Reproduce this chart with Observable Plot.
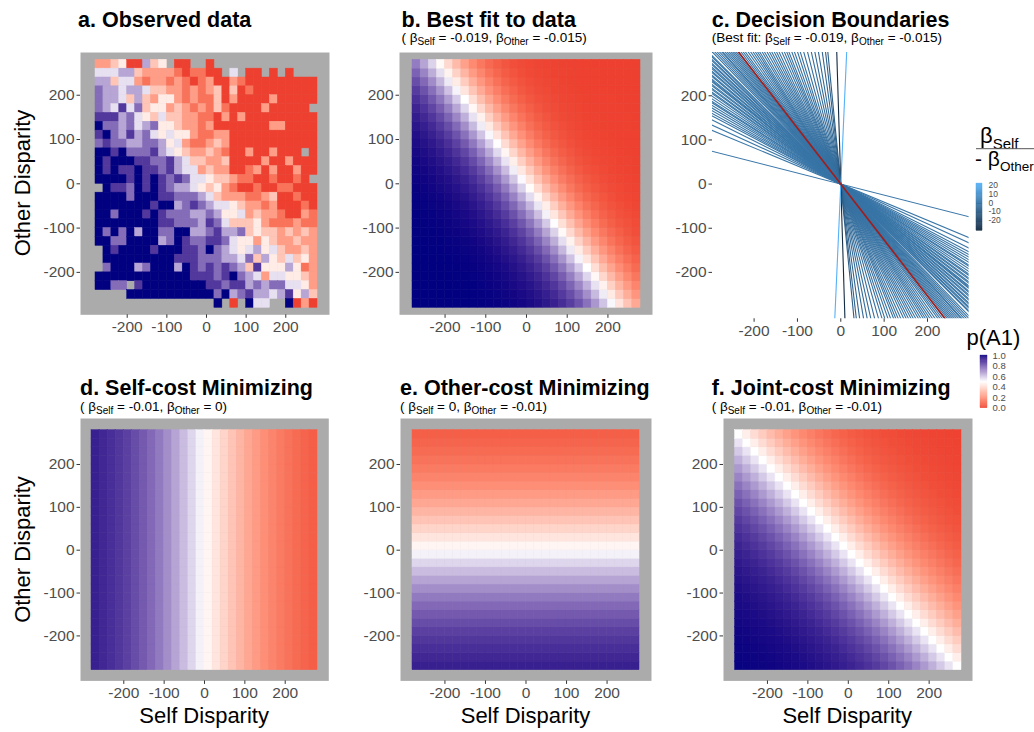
<!DOCTYPE html>
<html><head><meta charset="utf-8">
<script src="https://cdn.jsdelivr.net/npm/d3@7"></script>
<script src="https://cdn.jsdelivr.net/npm/@observablehq/plot@0.6"></script>
<style>
html,body{margin:0;padding:0;background:#fff;}
#root{position:relative;width:1034px;height:732px;overflow:hidden;font-family:"Liberation Sans",Arial,Helvetica,sans-serif;}
#root svg{position:absolute;overflow:visible;}
</style></head><body><div id="root"></div>
<script>
// ---------------- DATA ----------------
const disparity = [-270,-250,-230,-210,-190,-170,-150,-130,-110,-90,-70,-50,-30,-10,10,30,50,70,90,110,130,150,170,190,210,230,250,270];
// Observed p(A1): rows from Other Disparity 270 (top) down to -270; columns Self Disparity -270..270.
// digit d -> p = d/9 ; "." = no observation
const observedRows = [
  "223400634.00..0.............",
  "5556632222101100.5.00.0.0...",
  "6635521221210120021000000000",
  "7665665332212123030100000000",
  "7665363244212113020000200000",
  "765857344232121310000200000.",
  "8886754353322110202000000000",
  "9776756744322120000000220000",
  "8976867545442112200000000000",
  "7877667764521123200000000000",
  "99897778654322321002002000.0",
  "9899988778653322300002002000",
  "9898898878655232200120200200",
  "999989898787554332110010010.",
  ".988798987665434210010011000",
  "9999799988777653222112300100",
  "9999999899678765543221200010",
  "9979998987776676445232210021",
  "9999999988777687533342111211",
  "9797969977996678667343323232",
  "9977999967987788754424322322",
  ".989999899988797654564532232",
  ".999999999888777665736435342",
  ".799967999698787876384446412",
  "9999999999998887897652554432",
  "9977.89999999988788676775542",
  "....999999999997967866568463",
  "...............9.0.955..9020"
];
const modelKeys  = ["b", "d", "e", "f"];
const betaSelf   = [-0.019, -0.01, 0, -0.01];
const betaOther  = [-0.015, 0, -0.01, -0.01];
// individual decision-boundary slopes (beta_self / -beta_other)
const boundaryRatios = [
  -0.25,-1.01,-0.41,-1.03,-0.45,-1.05,-0.49,-1.07,-0.52,-1.09,-0.54,-1.1,-0.56,-1.12,-0.58,-1.14,
  -0.6,-1.16,-0.62,-1.18,-0.63,-1.2,-0.65,-1.22,-0.67,-1.24,-0.69,-1.27,-0.7,-1.3,-0.72,-1.33,
  -0.73,-1.36,-0.75,-1.4,-0.76,-1.44,-0.78,-1.48,-0.79,-1.52,-0.8,-1.56,-0.82,-1.6,-0.83,-1.65,
  -0.85,-1.7,-0.86,-1.76,-0.88,-1.82,-0.89,-1.88,-0.91,-1.95,-0.92,-2.02,-0.94,-2.1,-0.95,-2.2,
  -0.97,-2.3,-0.98,-2.4,-2.5,-2.65,-2.8,-3.0,-3.2,-3.5,-3.9,-4.4,-5.0,-5.8,-7.0,-8.5,-10,-32,22
];
const axisTicks   = [-200, -100, 0, 100, 200];
const legendTicks = [0, 0.2, 0.4, 0.6, 0.8, 1];
const ratioTicks  = [-20, -10, 0, 10, 20];

// ---------------- STYLE / LAYOUT ----------------
const FONT = '"Liberation Sans", Arial, Helvetica, sans-serif';
const RED = "#EE4030", NAVY = "#000080", GRAY = "#ABABAB";
const LINE_DARK = "#132B43", LINE_LIGHT = "#56B1F7", FIT_RED = "#9E1F1F";
const TICK_TEXT = "#4D4D4D", TICK_LINE = "#333333";
const frames = {
  a: {left: 80, right: 329, top: 51.7, bottom: 314, tileLeft: 95, tileRight: 317, tileTop: 59, tileBottom: 307},
  b: {left: 399, right: 652, top: 51.7, bottom: 314, tileLeft: 412, tileRight: 640, tileTop: 59, tileBottom: 307},
  d: {left: 80, right: 328.3, top: 418.3, bottom: 680.7, tileLeft: 91, tileRight: 317, tileTop: 430, tileBottom: 670},
  e: {left: 400, right: 651, top: 418.3, bottom: 680.7, tileLeft: 412, tileRight: 639, tileTop: 430, tileBottom: 670},
  f: {left: 722.7, right: 971.7, top: 418.3, bottom: 680.7, tileLeft: 734.3, tileRight: 960.7, tileTop: 430, tileBottom: 670},
  c: {left: 711.7, right: 968.3, top: 51.7, bottom: 318, x0: 840, y0: 183.3, kx: 0.4335, ky: 0.4415}
};

const root = document.getElementById("root");
const step = disparity[1] - disparity[0];
const half = step / 2;
const lo = disparity[0] - half, hi = disparity[disparity.length - 1] + half;

const pColor = {type: "linear", domain: [0, 0.5, 1], range: [RED, "#ffffff", NAVY], interpolate: d3.interpolateLab};

function place(svg, left, top) {
  svg.style.left = left + "px";
  svg.style.top = top + "px";
  root.appendChild(svg);
}
function axes() {
  const common = {ticks: axisTicks, tickFormat: d => String(d), tickSize: 3.5, tickPadding: 2.5,
    fontSize: 15.5, stroke: TICK_LINE, fill: TICK_TEXT, label: null};
  return [Plot.axisX(common), Plot.axisY(common)];
}

// build cell tables
const observedCells = [];
observedRows.forEach((row, i) => {
  for (let j = 0; j < disparity.length; j++) {
    const ch = row[j];
    if (ch === undefined || ch === ".") continue;
    observedCells.push({self: disparity[j], other: disparity[disparity.length - 1 - i], p: +ch / 9});
  }
});
function modelCells(bs, bo) {
  const out = [];
  for (const o of disparity) for (const s of disparity)
    out.push({self: s, other: o, p: 1 / (1 + Math.exp(-(bs * s + bo * o)))});
  return out;
}

function heatPanel(cells, g) {
  const M = {l: 60, r: 12, t: 12, b: 40};
  const w = g.right - g.left, h = g.bottom - g.top;
  const kx = (g.tileRight - g.tileLeft) / (hi - lo);
  const ky = (g.tileBottom - g.tileTop) / (hi - lo);
  const xDomain = [lo - (g.tileLeft - g.left) / kx, hi + (g.right - g.tileRight) / kx];
  const yDomain = [lo - (g.bottom - g.tileBottom) / ky, hi + (g.tileTop - g.top) / ky];
  const svg = Plot.plot({
    width: w + M.l + M.r, height: h + M.t + M.b,
    marginLeft: M.l, marginRight: M.r, marginTop: M.t, marginBottom: M.b,
    style: {fontFamily: FONT, background: "transparent", overflow: "visible"},
    x: {domain: xDomain}, y: {domain: yDomain},
    color: pColor,
    marks: [
      Plot.frame({fill: GRAY, stroke: "none"}),
      Plot.rect(cells, {x1: d => d.self - half, x2: d => d.self + half, y1: d => d.other - half, y2: d => d.other + half,
        fill: "p", stroke: "p", strokeWidth: 0.5}),
      ...axes()
    ]
  });
  place(svg, g.left - M.l, g.top - M.t);
}

function boundaryPanel(g) {
  const M = {l: 60, r: 12, t: 12, b: 40};
  const w = g.right - g.left, h = g.bottom - g.top;
  const xDomain = [(g.left - g.x0) / g.kx, (g.right - g.x0) / g.kx];
  const yDomain = [(g.y0 - g.bottom) / g.ky, (g.y0 - g.top) / g.ky];
  const ext = 2 * Math.max(-xDomain[0], xDomain[1]);
  const seg = r => ({r, x1: -ext, y1: -ext * r, x2: ext, y2: ext * r});
  const bestRatio = betaSelf[0] / -betaOther[0];
  const svg = Plot.plot({
    width: w + M.l + M.r, height: h + M.t + M.b,
    marginLeft: M.l, marginRight: M.r, marginTop: M.t, marginBottom: M.b,
    style: {fontFamily: FONT, background: "transparent", overflow: "visible"},
    x: {domain: xDomain}, y: {domain: yDomain},
    color: {type: "linear", domain: d3.extent(boundaryRatios), range: [LINE_DARK, LINE_LIGHT], interpolate: d3.interpolateLab},
    marks: [
      Plot.link(boundaryRatios.map(seg), {x1: "x1", y1: "y1", x2: "x2", y2: "y2", stroke: "r", strokeWidth: 1.1, clip: true}),
      Plot.link([seg(bestRatio)], {x1: "x1", y1: "y1", x2: "x2", y2: "y2", stroke: FIT_RED, strokeWidth: 1.7, clip: true}),
      ...axes()
    ]
  });
  place(svg, g.left - M.l, g.top - M.t);
}

heatPanel(observedCells, frames.a);
modelKeys.forEach((k, i) => heatPanel(modelCells(betaSelf[i], betaOther[i]), frames[k]));
boundaryPanel(frames.c);

// ---------------- LEGENDS ----------------
(function pLegend() {
  const barW = 7, top = 354.5, bottom = 407.3;
  const M = {l: 0, r: 30, t: 4, b: 4};
  const samples = d3.range(0, 100).map(i => ({v0: i / 100, v1: (i + 1) / 100}));
  const svg = Plot.plot({
    width: barW + M.l + M.r, height: bottom - top + M.t + M.b,
    marginLeft: M.l, marginRight: M.r, marginTop: M.t, marginBottom: M.b,
    style: {fontFamily: FONT, background: "transparent", overflow: "visible"},
    x: {domain: [0, 1], axis: null}, y: {domain: [0, 1]},
    color: pColor,
    marks: [
      Plot.rect(samples, {x1: 0, x2: 1, y1: "v0", y2: "v1", fill: d => (d.v0 + d.v1) / 2, stroke: d => (d.v0 + d.v1) / 2, strokeWidth: 0.3}),
      Plot.axisY({anchor: "right", ticks: legendTicks, tickFormat: d3.format(".1f"), tickSize: 0, tickPadding: 5, fontSize: 9.5, fill: TICK_TEXT, label: null})
    ]
  });
  place(svg, 980 - M.l, top - M.t);
})();
(function ratioLegend() {
  const barW = 6, top = 183.3, bottom = 230.7;
  const M = {l: 0, r: 30, t: 4, b: 4};
  const [r0, r1] = d3.extent(boundaryRatios);
  const samples = d3.range(0, 100).map(i => ({v0: r0 + (r1 - r0) * i / 100, v1: r0 + (r1 - r0) * (i + 1) / 100}));
  const svg = Plot.plot({
    width: barW + M.l + M.r, height: bottom - top + M.t + M.b,
    marginLeft: M.l, marginRight: M.r, marginTop: M.t, marginBottom: M.b,
    style: {fontFamily: FONT, background: "transparent", overflow: "visible"},
    x: {domain: [0, 1], axis: null}, y: {domain: [r0, r1]},
    color: {type: "linear", domain: [r0, r1], range: [LINE_DARK, LINE_LIGHT], interpolate: d3.interpolateLab},
    marks: [
      Plot.rect(samples, {x1: 0, x2: 1, y1: "v0", y2: "v1", fill: d => (d.v0 + d.v1) / 2, stroke: d => (d.v0 + d.v1) / 2, strokeWidth: 0.3}),
      Plot.axisY({anchor: "right", ticks: ratioTicks, tickFormat: d => String(d), tickSize: 0, tickPadding: 6, fontSize: 8.5, fill: TICK_TEXT, label: null})
    ]
  });
  place(svg, 976 - M.l, top - M.t);
})();

// ---------------- TEXT ----------------
const ov = d3.select(root).append("svg").attr("width", 1034).attr("height", 732)
  .style("left", "0px").style("top", "0px").style("font-family", FONT).style("pointer-events", "none");

function rich(x, y, segs, size, subSize, anchor) {
  const t = ov.append("text").attr("x", x).attr("y", y).attr("font-size", size).attr("fill", "#000");
  if (anchor) t.attr("text-anchor", anchor);
  let sub = false;
  segs.forEach(([s, isSub]) => {
    const ts = t.append("tspan").text(s);
    if (isSub && !sub) ts.attr("dy", subSize * 0.35).attr("font-size", subSize);
    else if (isSub) ts.attr("font-size", subSize);
    else if (!isSub && sub) ts.attr("dy", -subSize * 0.35);
    sub = isSub;
  });
  return t;
}
const titles = [
  ["a. Observed data", 78, 26.5], ["b. Best fit to data", 401.5, 26.5], ["c. Decision Boundaries", 711.7, 26.5],
  ["d. Self-cost Minimizing", 80, 395], ["e. Other-cost Minimizing", 400, 395], ["f. Joint-cost Minimizing", 711.7, 395]
];
titles.forEach(([s, x, y]) => ov.append("text").attr("x", x).attr("y", y).attr("font-size", 21.5)
  .attr("font-weight", "bold").attr("fill", "#000").text(s));

const subs = [
  [401.5, 41.7, [["( β", false], ["Self", true], [" = -0.019, β", false], ["Other", true], [" = -0.015)", false]]],
  [711.7, 41.7, [["(Best fit:  β", false], ["Self", true], [" = -0.019, β", false], ["Other", true], [" = -0.015)", false]]],
  [80, 410.7, [["( β", false], ["Self", true], [" = -0.01, β", false], ["Other", true], [" = 0)", false]]],
  [400, 410.7, [["( β", false], ["Self", true], [" = 0, β", false], ["Other", true], [" = -0.01)", false]]],
  [711.7, 410.7, [["( β", false], ["Self", true], [" = -0.01, β", false], ["Other", true], [" = -0.01)", false]]]
];
subs.forEach(([x, y, segs]) => rich(x, y, segs, 13.5, 10));

// axis titles
[[183, "Other Disparity"], [549.5, "Other Disparity"]].forEach(([cy, s]) =>
  ov.append("text").attr("transform", `translate(30,${cy}) rotate(-90)`).attr("text-anchor", "middle")
    .attr("font-size", 22).attr("fill", "#000").text(s));
[frames.d, frames.e, frames.f].forEach(g =>
  ov.append("text").attr("x", (g.left + g.right) / 2).attr("y", 723.3).attr("text-anchor", "middle")
    .attr("font-size", 22).attr("fill", "#000").text("Self Disparity"));

// legend titles
ov.append("text").attr("x", 966.5).attr("y", 344.5).attr("font-size", 22).attr("fill", "#000").text("p(A1)");
rich(980, 143.3, [["β", false], ["Self", true]], 22, 15);
ov.append("line").attr("x1", 976).attr("x2", 1034).attr("y1", 148.7).attr("y2", 148.7).attr("stroke", "#555").attr("stroke-width", 1);
rich(975, 166, [["- β", false], ["Other", true]], 21, 13.5);
</script></body></html>
